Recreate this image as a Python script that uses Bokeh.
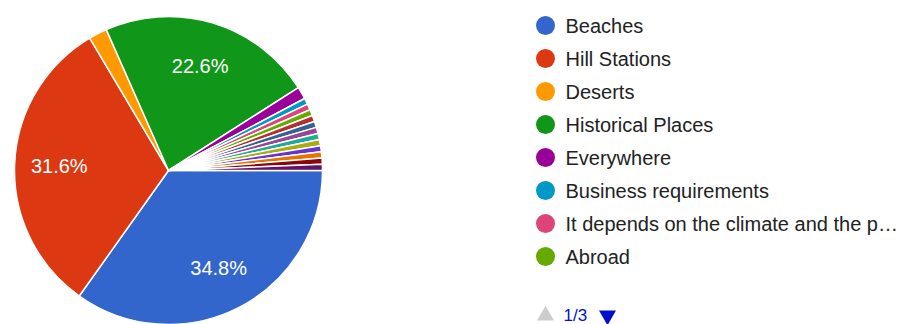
import math
from bokeh.plotting import figure
from bokeh.models import Range1d, ColumnDataSource
from bokeh.core.properties import value
from bokeh.embed import file_html
from bokeh.resources import INLINE

# ---- data ----
categories = [
    "Beaches", "Hill Stations", "Deserts", "Historical Places", "Everywhere",
    "Business requirements", "It depends on the climate and the p\u2026", "Abroad",
    "Response 9", "Response 10", "Response 11", "Response 12", "Response 13",
    "Response 14", "Response 15", "Response 16", "Response 17",
]
counts = [54, 49, 3, 35, 2, 1, 1, 1, 1, 1, 1, 1, 1, 1, 1, 1, 1]
colors = [
    "#3366cc", "#dc3912", "#ff9900", "#109618", "#990099", "#0099c6", "#dd4477",
    "#66aa00", "#b82e2e", "#316395", "#994499", "#22aa99", "#aaaa11", "#6633cc",
    "#e67300", "#8b0707", "#651067",
]
page_label = "1/3"
legend_per_page = 8

W, H = 913, 324
FONT = "Liberation Sans"

p = figure(width=W, height=H, output_backend="svg", toolbar_location=None,
           x_range=Range1d(0, W), y_range=Range1d(0, H),
           x_axis_location=None, y_axis_location=None, min_border=0,
           outline_line_color=None, background_fill_color="white",
           border_fill_color="white")
p.grid.visible = False

cx, cy, R = 168, H - 170, 154

total = float(sum(counts))
starts, ends, mids, fracs = [], [], [], []
acc = 0.0
for c in counts:
    f = c / total
    a0 = acc * 2 * math.pi
    a1 = (acc + f) * 2 * math.pi
    starts.append(-a0)
    ends.append(-a1)
    mids.append(-(a0 + a1) / 2)
    fracs.append(f)
    acc += f

src = ColumnDataSource(dict(start=starts, end=ends, color=colors,
                            x=[cx] * len(counts), y=[cy] * len(counts)))
p.wedge(x="x", y="y", radius=R, start_angle="start", end_angle="end",
        direction="clock", fill_color="color", line_color="white",
        line_width=1.5, source=src)

# percentage labels
lx, ly, lt = [], [], []
for f, m in zip(fracs, mids):
    if f >= 0.05:
        r = 0.71 * R
        lx.append(cx + r * math.cos(m))
        ly.append(cy + r * math.sin(m))
        lt.append(f"{f * 100:.1f}%")
p.text(x=lx, y=ly, text=lt, text_color="white", text_font=value(FONT),
       text_font_size="20px", text_align="center", text_baseline="middle")

# legend (first page)
leg_x, leg_y0, leg_dy = 545, H - 25, 33
n = legend_per_page
ys = [leg_y0 - i * leg_dy for i in range(n)]
p.scatter(x=[leg_x] * n, y=ys, size=19, marker="circle",
          fill_color=colors[:n], line_color=None)
p.text(x=[leg_x + 20] * n, y=ys, text=categories[:n], text_color="#222222",
       text_font=value(FONT), text_font_size="20px", text_baseline="middle")

# pagination
py = H - 315
p.scatter(x=[545], y=[py], marker="triangle", size=17,
          fill_color="#cccccc", line_color=None)
p.scatter(x=[607], y=[py], marker="inverted_triangle", size=17,
          fill_color="#0011cc", line_color=None)
p.text(x=[563], y=[py], text=[page_label], text_color="#0011cc",
       text_font=value(FONT), text_font_size="17px", text_baseline="middle")

open("out.html", "w").write(file_html(p, INLINE))
